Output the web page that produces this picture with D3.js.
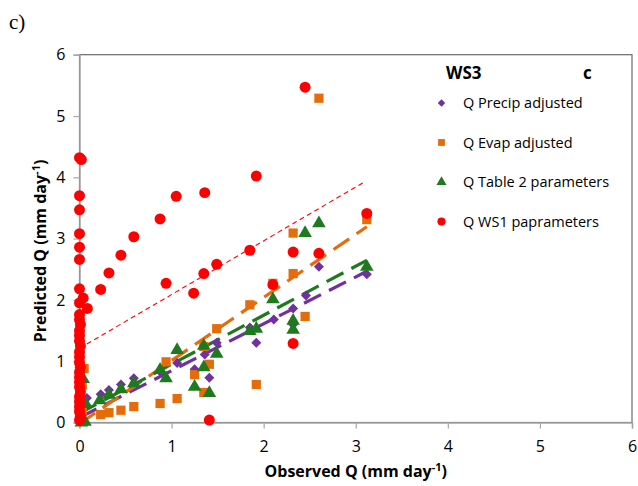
<!DOCTYPE html>
<html>
<head>
<meta charset="utf-8">
<script src="https://cdn.jsdelivr.net/npm/d3@7"></script>
<style>
  html, body { margin: 0; padding: 0; background: #fff; }
  svg { display: block; }
</style>
</head>
<body>
<svg id="chart" width="638" height="486"></svg>
<script>
// Axis ticks
const xTicks = [0, 1, 2, 3, 4, 5, 6];
const yTicks = [0, 1, 2, 3, 4, 5, 6];

// Series: observed (x) / predicted (y) daily flow, mm/day
const precipObs  = [0.02, 0.05, 0.08, 0.23, 0.32, 0.45, 0.59, 0.875, 1.06, 1.25, 1.36, 1.41, 1.49, 1.85, 1.92, 2.11, 2.32, 2.32, 2.46, 2.60, 3.12];
const precipPred = [0.12, 0.25, 0.40, 0.46, 0.53, 0.62, 0.72, 0.83,  0.97, 0.87, 1.11, 0.73, 1.30, 1.55, 1.30, 1.68, 1.86, 1.60, 2.07, 2.54, 2.42];

const evapObs  = [0.01, 0.03, 0.03, 0.05, 0.23, 0.32, 0.45, 0.59, 0.875, 0.94, 1.06, 1.25, 1.35, 1.35, 1.41, 1.49, 1.85, 1.92, 2.10, 2.32, 2.32, 2.45, 2.60, 3.12];
const evapPred = [0.12, 0.18, 0.61, 0.88, 0.13, 0.16, 0.20, 0.26, 0.31,  0.99, 0.39, 0.78, 0.49, 1.24, 0.95, 1.53, 1.92, 0.62, 2.27, 2.43, 3.09, 1.73, 5.29, 3.31];

const tableObs  = [0.02, 0.06, 0.04, 0.07, 0.22, 0.32, 0.45, 0.59, 0.875, 0.94, 1.06, 1.25, 1.35, 1.35, 1.41, 1.49, 1.85, 1.92, 2.10, 2.32, 2.32, 2.45, 2.60, 3.12];
const tablePred = [0.00, 0.01, 0.71, 0.30, 0.36, 0.45, 0.54, 0.64, 0.86,  0.72, 1.18, 0.58, 0.90, 1.25, 0.48, 1.12, 1.49, 1.53, 2.01, 1.66, 1.51, 3.09, 3.25, 2.54];

const ws1Obs  = [0.00, 0.02, 0.00, 0.00, 0.00, 0.00, 0.00, 0.00, 0.04, 0.00, 0.085, 0.00, 0.00, 0.01, 0.00, 0.00, 0.00, 0.01, 0.00, 0.00, 0.00, 0.01, 0.00, 0.00, 0.00, 0.00, 0.01, 0.00, 0.00, 0.00, 0.00, 0.01, 0.00,
                 0.23, 0.32, 0.45, 0.59, 0.875, 0.94, 1.05, 1.24, 1.35, 1.36, 1.41, 1.49, 1.85, 1.92, 2.10, 2.32, 2.32, 2.45, 2.60, 3.12];
const ws1Pred = [4.32, 4.29, 3.70, 3.47, 3.08, 2.86, 2.66, 2.18, 2.03, 1.95, 1.86, 1.76, 1.68, 1.60, 1.50, 1.42, 1.33, 1.25, 1.15, 1.07, 0.98, 0.90, 0.82, 0.74, 0.66, 0.58, 0.50, 0.42, 0.34, 0.26, 0.18, 0.10, 0.04,
                 2.17, 2.44, 2.73, 3.03, 3.32,  2.27, 3.69, 2.11, 2.43, 3.75, 0.04, 2.58, 2.81, 4.02, 2.25, 2.78, 1.29, 5.47, 2.76, 3.41];

// Linear trendlines fitted to each series: [intercept, slope, x end]
const trendIntercept = [0.08, -0.02, 0.15, 1.21];
const trendSlope     = [0.765, 1.03, 0.80, 0.877];
const trendXEnd      = [3.12, 3.12, 3.12, 3.10];

const seriesNames = ["Q Precip adjusted", "Q Evap adjusted", "Q Table 2 parameters", "Q WS1 paprameters"];
const seriesColors = ["#7030a0", "#e46c0a", "#1f7a1f", "#ff0000"];
const seriesShapes = [d3.symbolSquare, d3.symbolSquare, d3.symbolTriangle, d3.symbolCircle];
const seriesRotate = [45, 0, 0, 0];

const series = [
  { obs: precipObs, pred: precipPred },
  { obs: evapObs,   pred: evapPred },
  { obs: tableObs,  pred: tablePred },
  { obs: ws1Obs,    pred: ws1Pred }
].map((s, i) => ({
  name: seriesNames[i],
  color: seriesColors[i],
  shape: seriesShapes[i],
  rot: seriesRotate[i],
  points: s.obs.map((x, j) => ({ x, y: s.pred[j] })),
  trend: { b: trendIntercept[i], m: trendSlope[i], xEnd: trendXEnd[i] }
}));

const FONT = "'Open Sans', 'DejaVu Sans', sans-serif";
const svg = d3.select("#chart");
const margin = { left: 79.5, right: 6, top: 54.7, bottom: 63.5 };
const W = 638, H = 486;

const x = d3.scaleLinear().domain([0, 6]).range([margin.left, W - margin.right]);
const y = d3.scaleLinear().domain([0, 6]).range([H - margin.bottom, margin.top]);

// Plot-area frame
svg.append("rect")
  .attr("x", x(0)).attr("y", y(6))
  .attr("width", x(6) - x(0)).attr("height", y(0) - y(6))
  .attr("fill", "none").attr("stroke", "#6b6b6b").attr("stroke-width", 1.2);

// Axes
const xAxis = svg.append("g").attr("transform", `translate(0,${y(0)})`)
  .call(d3.axisBottom(x).tickValues(xTicks).tickSize(6).tickPadding(12).tickFormat(d3.format("d")));
const yAxis = svg.append("g").attr("transform", `translate(${x(0)},0)`)
  .call(d3.axisLeft(y).tickValues(yTicks).tickSize(6).tickPadding(8).tickFormat(d3.format("d")));
[xAxis, yAxis].forEach(g => {
  g.select(".domain").attr("stroke", "#a6a6a6").attr("stroke-width", 1.5);
  g.selectAll(".tick line").attr("stroke", "#a6a6a6").attr("stroke-width", 1.2);
  g.selectAll(".tick text").attr("fill", "#000").style("font-family", FONT).style("font-size", "16px");
});

// Trendlines
const line = d3.line().x(d => x(d[0])).y(d => y(d[1]));
series.forEach((s, i) => {
  const t = s.trend;
  const pts = [[0, t.b], [t.xEnd, t.b + t.m * t.xEnd]];
  svg.append("path")
    .attr("d", line(pts))
    .attr("fill", "none")
    .attr("stroke", s.color)
    .attr("stroke-width", i === 3 ? 1.1 : 3.2)
    .attr("stroke-dasharray", i === 3 ? "5,3.5" : "19,9");
});

// Markers
const symSize = [50, 85, 80, 95];
series.forEach((s, i) => {
  svg.append("g").selectAll("path")
    .data(s.points).join("path")
    .attr("transform", d => `translate(${x(d.x)},${y(d.y)}) rotate(${s.rot})`)
    .attr("d", d3.symbol().type(s.shape).size(symSize[i]))
    .attr("fill", s.color);
});

// Panel tag
svg.append("text").attr("x", 9).attr("y", 29)
  .style("font-family", "'Liberation Serif', 'Times New Roman', serif")
  .style("font-size", "21px").text("c)");

// Legend
const lg = svg.append("g");
lg.append("text").attr("x", 446).attr("y", 79)
  .style("font-family", FONT).style("font-size", "17px").style("font-weight", "bold").text("WS3");
lg.append("text").attr("x", 583).attr("y", 79)
  .style("font-family", FONT).style("font-size", "17px").style("font-weight", "bold").text("c");
series.forEach((s, i) => {
  const cy = 103 + i * 39.5;
  lg.append("path")
    .attr("transform", `translate(441.5,${cy}) rotate(${s.rot})`)
    .attr("d", d3.symbol().type(s.shape).size(symSize[i] * 0.55))
    .attr("fill", s.color);
  lg.append("text").attr("x", 463).attr("y", cy + 5)
    .style("font-family", FONT).style("font-size", "14.5px").text(s.name);
});

// Axis titles
const xt = svg.append("text").attr("x", (x(0) + x(6)) / 2).attr("y", 477)
  .attr("text-anchor", "middle")
  .style("font-family", FONT).style("font-size", "16px").style("font-weight", "bold");
xt.append("tspan").text("Observed Q (mm day");
xt.append("tspan").attr("dy", -6).style("font-size", "11px").text("-1");
xt.append("tspan").attr("dy", 6).text(")");

const yt = svg.append("text")
  .attr("transform", `translate(46,251) rotate(-90)`)
  .attr("text-anchor", "middle")
  .style("font-family", FONT).style("font-size", "16px").style("font-weight", "bold");
yt.append("tspan").text("Predicted Q (mm day");
yt.append("tspan").attr("dy", -6).style("font-size", "11px").text("-1");
yt.append("tspan").attr("dy", 6).text(")");
</script>
</body>
</html>
